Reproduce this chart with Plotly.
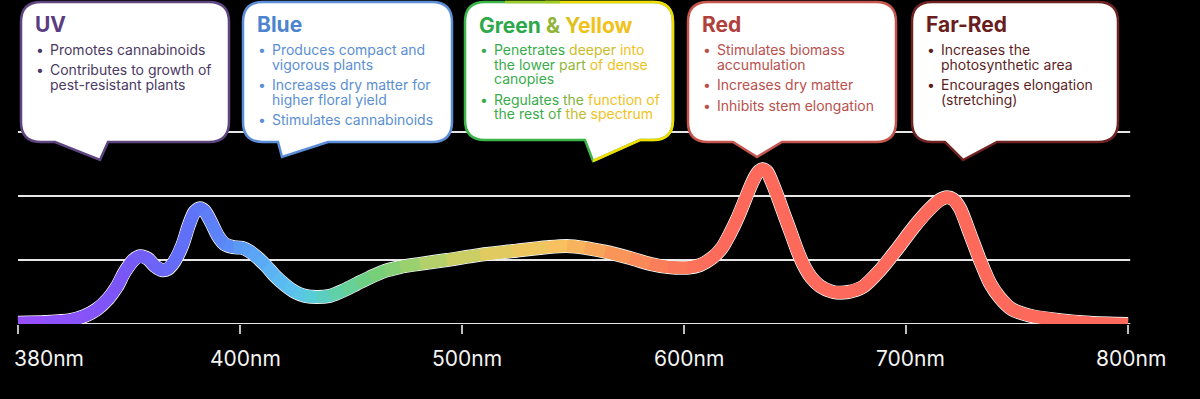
import numpy as np
import plotly.graph_objects as go

# ---------------- data ----------------
wavelength_nm = [380.0, 382.4, 384.7, 386.0, 387.1, 388.1, 388.9, 389.6, 390.4, 391.0,
                 391.7, 392.3, 393.0, 393.5, 394.1, 394.8, 395.4, 395.9, 396.4, 396.8,
                 397.4, 398.0, 398.6, 399.4, 400.9, 404.5, 408.1, 411.7, 415.8, 420.3,
                 424.8, 429.3, 434.7, 440.5, 446.4, 452.7, 458.6, 465.3, 472.1, 481.1,
                 493.2, 508.1, 523.0, 538.3, 547.3, 555.4, 564.4, 575.7, 584.7, 592.8,
                 601.4, 607.2, 612.6, 617.1, 620.7, 624.3, 627.5, 629.7, 632.0, 633.8,
                 635.6, 637.4, 639.6, 642.3, 645.0, 648.2, 650.9, 653.6, 657.2, 661.3,
                 667.1, 673.9, 680.6, 688.3, 696.0, 703.2, 709.9, 715.3, 718.5, 721.2,
                 724.3, 728.8, 733.3, 737.8, 742.3, 747.7, 755.9, 769.4, 782.9, 800.0]
intensity = [0.02, 0.03, 0.06, 0.125, 0.23, 0.39, 0.58, 0.81, 1.00, 1.06,
             1.02, 0.91, 0.84, 0.86, 0.98, 1.23, 1.55, 1.75, 1.81, 1.77,
             1.59, 1.38, 1.25, 1.20, 1.19, 1.13, 1.03, 0.91, 0.75, 0.61,
             0.50, 0.44, 0.42, 0.44, 0.52, 0.63, 0.73, 0.83, 0.89, 0.94,
             1.00, 1.08, 1.14, 1.20, 1.22, 1.19, 1.13, 1.03, 0.94, 0.89,
             0.88, 0.92, 1.03, 1.19, 1.41, 1.67, 1.94, 2.13, 2.30, 2.39,
             2.42, 2.38, 2.22, 1.98, 1.72, 1.42, 1.16, 0.94, 0.73, 0.59,
             0.50, 0.50, 0.58, 0.84, 1.17, 1.50, 1.77, 1.94, 1.98, 1.95,
             1.81, 1.41, 1.00, 0.64, 0.41, 0.23, 0.13, 0.06, 0.02, 0.0]

tick_nm = [380, 400, 500, 600, 700, 800]
tick_labels = ["380nm", "400nm", "500nm", "600nm", "700nm", "800nm"]
grid_levels = [0, 1, 2, 3]

titles = ["UV", "Blue", "Green & Yellow", "Red", "Far-Red"]
bullets = [
    [["Promotes cannabinoids"], ["Contributes to growth of", "pest-resistant plants"]],
    [["Produces compact and", "vigorous plants"], ["Increases dry matter for", "higher floral yield"],
     ["Stimulates cannabinoids"]],
    [["Penetrates deeper into", "the lower part of dense", "canopies"],
     ["Regulates the function of", "the rest of the spectrum"]],
    [["Stimulates biomass", "accumulation"], ["Increases dry matter"], ["Inhibits stem elongation"]],
    [["Increases the", "photosynthetic area"], ["Encourages elongation", "(stretching)"]],
]

# ---------------- styles ----------------
W, H = 1200, 399
BASE_PX = 324          # pixel row of the baseline
FONT = "Inter"

color_stop_nm = [380, 390, 396, 402, 425, 438, 450, 466, 500, 530, 550, 575, 600, 620, 800]
color_stop_hex = ["#a44dff", "#7a56f6", "#5f72f8", "#5a98f6", "#5bbef2", "#58cdd6", "#5fd0a6",
                  "#72cf78", "#b4d06a", "#e0cb60", "#f6c35e", "#f89c58", "#fb7a5a", "#fd6a5b", "#fd6a5b"]

# callout geometry (pixels): left, top, right, bottom, pointer (base-left, tip-x, tip-y, base-right)
boxes = [
    dict(l=21, t=2, r=229, b=142, ptr=(55, 100, 160, 108), border="#5e4580",
         title_c="#5a3c80", text_c="#4b3a63"),
    dict(l=243, t=2, r=452, b=142, ptr=(278, 282, 157, 328), border="#5b8ed6",
         title_c="#4c84cf", text_c="#5b8fd2"),
    dict(l=465, t=2, r=673, b=140, ptr=(585, 593, 161, 640), border="#3bb54a",
         title_c=None, text_c=None),
    dict(l=688, t=2, r=896, b=142, ptr=(733, 757, 157, 782), border="#c4554f",
         title_c="#b0403c", text_c="#b9504c"),
    dict(l=912, t=2, r=1118, b=142, ptr=(945, 963, 160, 997), border="#6e2222",
         title_c="#6a1d1d", text_c="#5c1f1f"),
]


def hex2rgb(h):
    h = h.lstrip("#")
    return np.array([int(h[i:i + 2], 16) for i in (0, 2, 4)], dtype=float)


def color_at(nm):
    rgbs = np.array([hex2rgb(c) for c in color_stop_hex])
    r = np.interp(nm, color_stop_nm, rgbs[:, 0])
    g = np.interp(nm, color_stop_nm, rgbs[:, 1])
    b = np.interp(nm, color_stop_nm, rgbs[:, 2])
    return "rgb(%d,%d,%d)" % (round(r), round(g), round(b))


def P(x, y):
    return "%.5f,%.5f" % (x / W, (BASE_PX - y) / BASE_PX)


def bubble_path(bx, rad=20):
    l, t, r, b = bx["l"], bx["t"], bx["r"], bx["b"]
    p0, tx, ty, p1 = bx["ptr"]
    return ("M" + P(l + rad, t) + " L" + P(r - rad, t) + " Q" + P(r, t) + " " + P(r, t + rad) +
            " L" + P(r, b - rad) + " Q" + P(r, b) + " " + P(r - rad, b) +
            " L" + P(p1, b) + " L" + P(tx, ty) + " L" + P(p0, b) +
            " L" + P(l + rad, b) + " Q" + P(l, b) + " " + P(l, b - rad) +
            " L" + P(l, t + rad) + " Q" + P(l, t) + " " + P(l + rad, t) + " Z")


# ---------------- figure ----------------
tick_pos = list(range(len(tick_nm)))
xpos = np.interp(wavelength_nm, tick_nm, tick_pos)
yval = np.array(intensity)
n = len(wavelength_nm)

fig = go.Figure()

# white rim under the curve
fig.add_trace(go.Scatter(x=xpos, y=yval, mode="lines",
                         line=dict(color="#f2f2f2", width=14, shape="spline", smoothing=0.8),
                         hoverinfo="skip", showlegend=False, cliponaxis=False))
# gradient coloured segments (each overlaps its neighbours so the joins stay smooth)
for i in range(n - 1):
    a = max(i - 1, 0)
    b = min(i + 3, n)
    mid = 0.5 * (wavelength_nm[i] + wavelength_nm[i + 1])
    fig.add_trace(go.Scatter(x=xpos[a:b], y=yval[a:b], mode="lines",
                             line=dict(color=color_at(mid), width=12, shape="spline", smoothing=0.8),
                             hoverinfo="skip", showlegend=False, cliponaxis=False))

shapes = []
# horizontal guide lines
for g in grid_levels:
    shapes.append(dict(type="line", xref="x", yref="y", x0=0, x1=5.01, y0=g, y1=g,
                       line=dict(color="#e6e6e6", width=2), layer="below"))

# callout bubbles
for bx in boxes:
    shapes.append(dict(type="path", xref="paper", yref="paper", path=bubble_path(bx),
                       fillcolor="white", line=dict(color=bx["border"], width=2.5), layer="above"))

# yellow part of the green/yellow border
gb = boxes[2]
rad = 20
yellow_path = ("M" + P(545, gb["t"]) + " L" + P(gb["r"] - rad, gb["t"]) + " Q" + P(gb["r"], gb["t"]) +
               " " + P(gb["r"], gb["t"] + rad) + " L" + P(gb["r"], gb["b"] - rad) + " Q" +
               P(gb["r"], gb["b"]) + " " + P(gb["r"] - rad, gb["b"]) + " L" + P(gb["ptr"][3], gb["b"]) +
               " L" + P(gb["ptr"][1], gb["ptr"][2]))
shapes.append(dict(type="path", xref="paper", yref="paper", path=yellow_path,
                   fillcolor="rgba(0,0,0,0)", line=dict(color="#f2dc00", width=2.5), layer="above"))
shapes.append(dict(type="line", xref="paper", yref="paper",
                   x0=505 / W, x1=560 / W, y0=(BASE_PX - 2) / BASE_PX, y1=(BASE_PX - 2) / BASE_PX,
                   line=dict(color="#9fcc25", width=2.5), layer="above"))

annotations = []


def ann(x, y, text, size, color, bold=False):
    annotations.append(dict(xref="paper", yref="paper", x=x / W, y=(BASE_PX - y) / BASE_PX,
                            xanchor="left", yanchor="middle", showarrow=False, text=text,
                            font=dict(family=FONT, size=size, color=color,
                                      weight=700 if bold else 400)))


def green_yellow(x):
    stops_x = [560, 590, 612]
    stops_c = ["#3aab4c", "#c3bb2a", "#efc21c"]
    rgbs = np.array([hex2rgb(c) for c in stops_c])
    r = np.interp(x, stops_x, rgbs[:, 0]); g = np.interp(x, stops_x, rgbs[:, 1]); b = np.interp(x, stops_x, rgbs[:, 2])
    return "rgb(%d,%d,%d)" % (round(r), round(g), round(b))


for k, bx in enumerate(boxes):
    l = bx["l"]
    if k == 2:
        ttl = ("<span style='color:#2da84a'>Green</span> <span style='color:#93b43a'>&amp;</span> "
               "<span style='color:#dcc21c'>Y</span><span style='color:#f0c21a'>ellow</span>")
        ann(l + 12, 25, ttl, 21, "#2da84a", bold=True)
    else:
        ann(l + 12, 24, titles[k], 21, bx["title_c"], bold=True)
    y = 49.5
    for bi, lines in enumerate(bullets[k]):
        if bi > 0:
            y += 20.5
        bcol = bx["text_c"] if bx["text_c"] else "#3aab4c"
        ann(l + 13, y, "•", 14, bcol)
        for li, line in enumerate(lines):
            if li > 0:
                y += 14.5
            if k == 2:
                words = line.split(" ")
                parts = []
                cx = l + 28
                for w_ in words:
                    wc = cx + len(w_) * 3.6
                    parts.append("<span style='color:%s'>%s</span>" % (green_yellow(wc), w_))
                    cx += (len(w_) + 1) * 7.2
                ann(l + 27, y, " ".join(parts), 14, "#3aab4c")
            else:
                ann(l + 27, y, line, 14, bx["text_c"])

# x tick labels
label_shift = [31, 5, 5, 5, 4, 3]
for p, lab, sh in zip(tick_pos, tick_labels, label_shift):
    annotations.append(dict(xref="x", yref="paper", x=p, y=(BASE_PX - 358) / BASE_PX, xshift=sh,
                            xanchor="center", yanchor="middle", showarrow=False, text=lab,
                            font=dict(family=FONT, size=21, color="#f4f4f4")))

fig.update_layout(
    width=W, height=H,
    margin=dict(l=0, r=0, t=0, b=H - BASE_PX, pad=0),
    paper_bgcolor="black", plot_bgcolor="black",
    showlegend=False,
    xaxis=dict(range=[-18 / 222, (W - 18) / 222], tickvals=tick_pos, ticks="outside", ticklen=9,
               tickwidth=2, tickcolor="#bdbdbd", showticklabels=False, showgrid=False,
               zeroline=False, showline=False, fixedrange=True),
    yaxis=dict(range=[0, BASE_PX / 64], showticklabels=False, showgrid=False, zeroline=False,
               showline=False, fixedrange=True),
    shapes=shapes, annotations=annotations,
)

fig.write_html("out.html", config={"displayModeBar": False},
               post_script="document.body.style.margin='0';document.body.style.overflow='hidden';")
